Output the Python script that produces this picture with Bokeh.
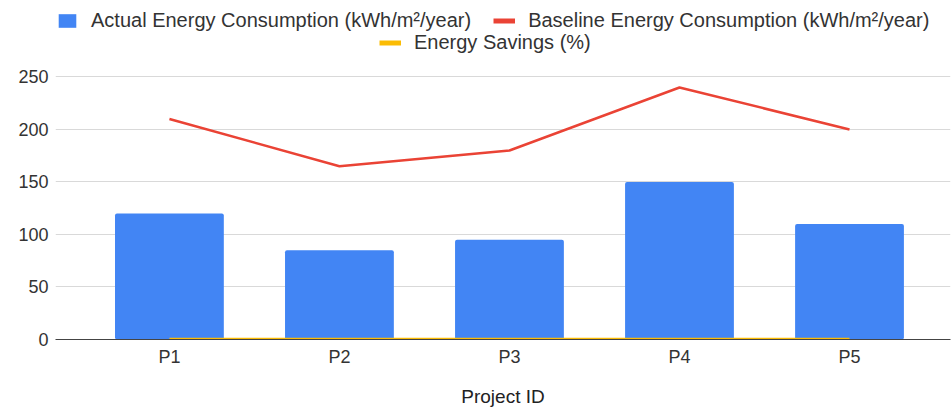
from bokeh.plotting import figure
from bokeh.models import (Range1d, FixedTicker, Legend, LegendItem, ColumnDataSource)
from bokeh.embed import file_html
from bokeh.resources import INLINE

# ---- data ----
projects = ["P1", "P2", "P3", "P4", "P5"]
actual = [120, 85, 95, 150, 110]
baseline = [210, 165, 180, 240, 200]
savings = [0.43, 0.48, 0.47, 0.38, 0.45]
y_ticks = [0, 50, 100, 150, 200, 250]
x_title = "Project ID"

x_pos = list(range(1, len(projects) + 1))
src = ColumnDataSource(dict(x=x_pos, actual=actual, baseline=baseline, savings=savings))

BLUE = "#4285F4"
RED = "#EA4335"
YELLOW = "#FBBC04"
FONT = "Liberation Sans"

p = figure(width=951, height=409, output_backend="svg", toolbar_location=None,
           x_range=Range1d(0.33, 5.594), y_range=Range1d(0, 322.8),
           min_border_left=55, min_border_right=1, min_border_top=0, min_border_bottom=69)
p.outline_line_color = None
p.background_fill_color = "white"
p.border_fill_color = "white"

bars = p.vbar(x="x", top="actual", width=0.64, source=src, fill_color=BLUE,
              line_color=None, border_radius=2)
red = p.line(x="x", y="baseline", source=src, line_color=RED, line_width=2.5)
yel = p.line(x="x", y="savings", source=src, line_color=YELLOW, line_width=2.5)

# legend proxies: placed outside the visible x range, only used for the legend glyph look
leg_red = p.line(x=[-10, -9], y=[0, 0], line_color=RED, line_width=5)
leg_yel = p.line(x=[-10, -9], y=[0, 0], line_color=YELLOW, line_width=5)

# axes
xa = p.xaxis[0]
xa.ticker = FixedTicker(ticks=x_pos)
xa.major_label_overrides = {x: n for x, n in zip(x_pos, projects)}
xa.axis_label = x_title
xa.axis_label_text_font = FONT
xa.axis_label_text_font_size = "19px"
xa.axis_label_text_font_style = "normal"
xa.axis_label_text_color = "#222222"
xa.axis_label_standoff = 16
xa.major_label_text_font = FONT
xa.major_label_text_font_size = "18px"
xa.major_label_text_color = "#333333"
xa.major_label_standoff = 7
xa.major_tick_line_color = None
xa.major_tick_out = 0
xa.major_tick_in = 0
xa.minor_tick_line_color = None
xa.minor_tick_out = 0
xa.axis_line_color = "#444444"
xa.axis_line_width = 1

ya = p.yaxis[0]
ya.ticker = FixedTicker(ticks=y_ticks)
ya.major_label_text_font = FONT
ya.major_label_text_font_size = "18px"
ya.major_label_text_color = "#333333"
ya.major_label_standoff = 7
ya.major_tick_line_color = None
ya.major_tick_out = 0
ya.major_tick_in = 0
ya.minor_tick_line_color = None
ya.minor_tick_out = 0
ya.axis_line_color = None

p.xgrid.grid_line_color = None
p.ygrid.ticker = FixedTicker(ticks=y_ticks)
p.ygrid.grid_line_color = "#d9d9d9"
p.ygrid.grid_line_width = 1

def mk_legend(items, loc, spacing):
    lg = Legend(items=items, location=loc, orientation="horizontal",
                margin=0, padding=0, spacing=spacing, label_standoff=13,
                glyph_width=22, glyph_height=17, label_height=17,
                label_text_font=FONT, label_text_font_size="20px",
                label_text_color="#333333", background_fill_alpha=0,
                border_line_color=None)
    return lg

leg1 = mk_legend([
    LegendItem(label="Actual Energy Consumption (kWh/m²/year)", renderers=[bars]),
    LegendItem(label="Baseline Energy Consumption (kWh/m²/year)", renderers=[leg_red]),
], (1, 307), 22)
leg2 = mk_legend([
    LegendItem(label="Energy Savings (%)", renderers=[leg_yel]),
], (324, 285), 22)
p.add_layout(leg1, "center")
p.add_layout(leg2, "center")

open("out.html", "w").write(file_html(p, INLINE))
